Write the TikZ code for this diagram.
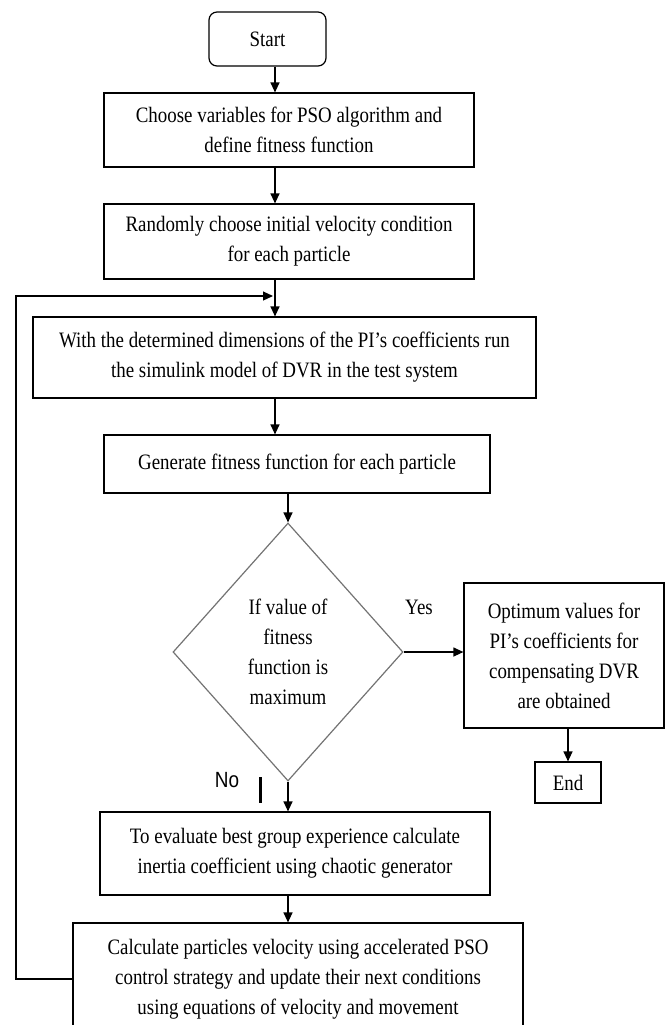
\documentclass[tikz,border=0pt]{standalone}
\usepackage{fontspec}
\setmainfont{Liberation Serif}[FakeStretch=0.86]
\setsansfont{Liberation Sans}[FakeStretch=0.86]
\usetikzlibrary{arrows.meta,shapes.geometric}

\begin{document}
\begin{tikzpicture}[x=0.5pt, y=-0.5pt,
			flownode/.style = {align=center, inner sep=0pt, text centered,
					font=\fontsize{11}{15}\selectfont},
			block/.style = {flownode, rectangle, draw=black, line width=0.6pt},
			terminal/.style = {block, rounded corners=4pt},
			decision/.style = {flownode, diamond, draw=black!55, line width=0.6pt,
					minimum width=115pt, minimum height=129pt},
			note/.style = {flownode},
			flow/.style = {-{Triangle[length=5pt,width=4.5pt]}, line width=0.6pt}
		]
		\clip (0,0) rectangle (667,1025);
		\coordinate (spine) at (275,0);
		\coordinate (back) at (16,296);
		\coordinate (merge) at (273,296);

		\node [terminal, minimum width=58.5pt, minimum height=27pt] (start) at (267.5,39) {Start};
		\node [block, minimum width=185pt, minimum height=37pt] (choose) at (289,130)
			{Choose variables for PSO algorithm and\\ define fitness function};
		\node [block, minimum width=185pt, minimum height=37.5pt] (random) at (289,241.5)
			{Randomly choose initial velocity condition\\ for each particle};
		\node [block, minimum width=251.5pt, minimum height=40.5pt] (run) at (284.5,357.5)
			{With the determined dimensions of the PI’s coefficients run\\ the simulink model of DVR in the test system};
		\node [block, minimum width=193pt, minimum height=29pt] (gen) at (297,464)
			{Generate fitness function for each particle};
		\node [decision] (cond) at (288,652)
			{If value of\\ fitness\\ function is\\ maximum};
		\node [block, minimum width=100pt, minimum height=72.5pt] (opt) at (564,655.5)
			{Optimum values for\\ PI’s coefficients for\\ compensating DVR\\ are obtained};
		\node [block, minimum width=33pt, minimum height=20.5pt] (end) at (568,782.5) {End};
		\node [block, minimum width=195pt, minimum height=41.5pt] (eval) at (295,853.5)
			{To evaluate best group experience calculate\\ inertia coefficient using chaotic generator};
		\node [block, minimum width=225pt, minimum height=56pt] (calc) at (298,979)
			{Calculate particles velocity using accelerated PSO\\ control strategy and update their next conditions\\ using equations of velocity and movement};

		\node [note] (yes) at (419,607) {Yes};
		\node [note, font=\fontsize{11}{15}\sffamily] (no) at (227,780) {No};

		\draw [flow] (spine |- start.south) -- (spine |- choose.north);
		\draw [flow] (spine |- choose.south) -- (spine |- random.north);
		\draw [flow] (spine |- random.south) -- (spine |- run.north);
		\draw [flow] (calc.west) -| (back) -- (merge);
		\draw [flow] (spine |- run.south) -- (spine |- gen.north);
		\draw [flow] (cond.north |- gen.south) -- (cond.north);
		\draw [flow] (cond.east) -- (cond.east -| opt.west);
		\draw [flow] (end.north |- opt.south) -- (end.north);
		\draw [flow] (cond.south) -- (cond.south |- eval.north);
		\draw [flow] (cond.south |- eval.south) -- (cond.south |- calc.north);
		\draw [line width=1.2pt] ([xshift=10.5pt]no.east |- 0,777) -- ([xshift=10.5pt]no.east |- 0,803);
	\end{tikzpicture}
\end{document}
